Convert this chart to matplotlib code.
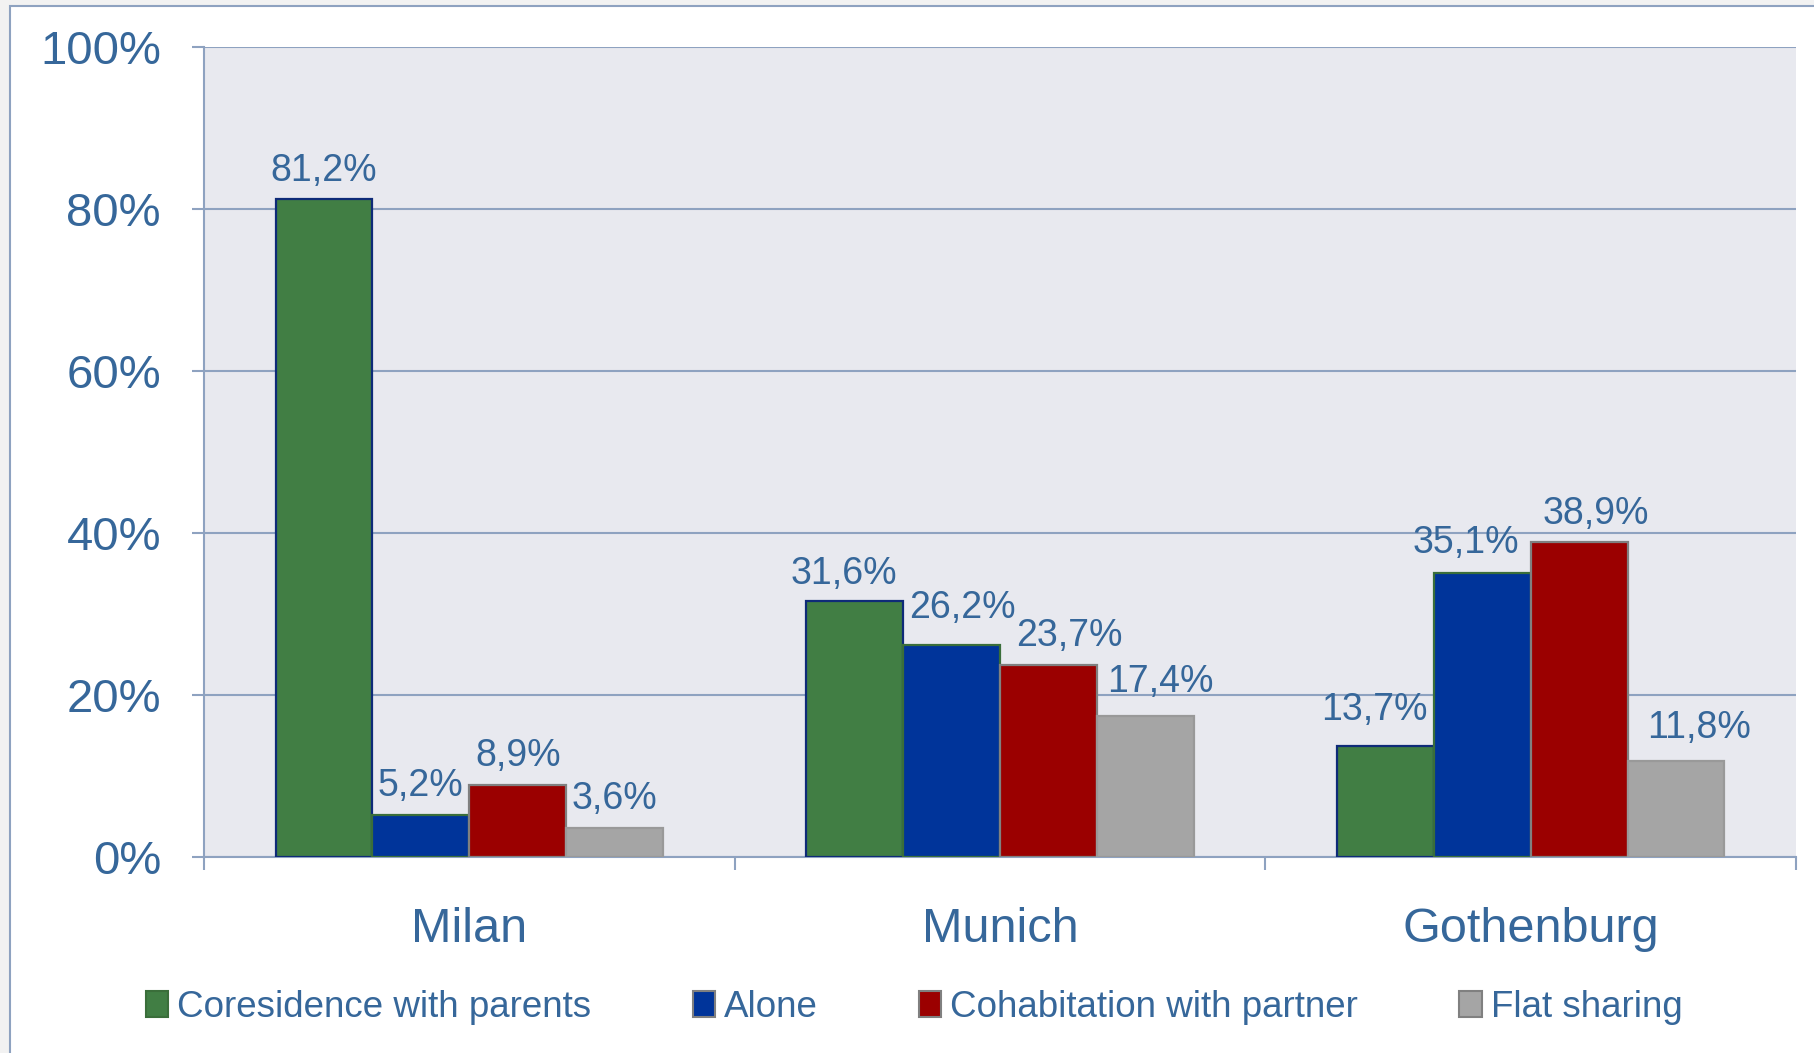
import matplotlib.pyplot as plt
import numpy as np
from matplotlib.patches import Rectangle, Patch

cities = ['Milan', 'Munich', 'Gothenburg']
series = ['Coresidence with parents', 'Alone', 'Cohabitation with partner', 'Flat sharing']
parents = [81.2, 31.6, 13.7]
alone = [5.2, 26.2, 35.1]
partner = [8.9, 23.7, 38.9]
flat = [3.6, 17.4, 11.8]

colors = ['#417E44', '#00349A', '#9B0000', '#A5A5A5']
edges = ['#0E2B78', '#3A6E3A', '#808080', '#999999']
txt = '#36679A'
axcol = '#8EA2C0'

# label nudges (points) so overlapping labels shift like in the original
lab_dx = [[0, -8, -8], [0, 8, -12], [0, 15, 12], [0, 11, 17]]
lab_dy = [[7.7, 6.8, 12.7], [7.7, 13.5, 8.5], [7.7, 7.7, 6.8], [7.7, 11.8, 11]]

plt.rcParams['font.family'] = ['Liberation Sans', 'DejaVu Sans']

fig = plt.figure(figsize=(18.14, 10.53), dpi=100, facecolor='#F2F2F2')
# white chart frame behind everything
fig.patches.append(Rectangle((10 / 1814, -0.1), 1.2, 1.1 - 6 / 1053, transform=fig.transFigure,
                             facecolor='white', edgecolor=axcol, linewidth=1.5, zorder=-5))

ax = fig.add_axes([204 / 1814, 1 - 857 / 1053, (1796 - 204) / 1814, (857 - 47) / 1053])
ax.set_zorder(2)
ax.set_facecolor('#E8E9EF')

x = np.arange(len(cities))
w = 0.1825
data = [parents, alone, partner, flat]
for i, vals in enumerate(data):
    pos = x + (i - 1.5) * w
    bars = ax.bar(pos, vals, w, color=colors[i], edgecolor=edges[i], linewidth=1.6,
                  label=series[i], zorder=3)
    for j, (b, v) in enumerate(zip(bars, vals)):
        ax.annotate(f'{v:.1f}%'.replace('.', ','), (b.get_x() + b.get_width() / 2, v),
                    xytext=(lab_dx[i][j], lab_dy[i][j]), textcoords='offset points',
                    ha='center', va='bottom', fontsize=27, color=txt, zorder=4)

ax.set_xlim(-0.5, 2.5)
ax.set_ylim(0, 100)
ax.set_yticks(range(0, 101, 20))
ax.set_yticklabels([f'{t}%' for t in range(0, 101, 20)])
ax.yaxis.grid(True, color=axcol, linewidth=1.5, zorder=1)
ax.set_axisbelow(True)

ax.set_xticks(x)
ax.set_xticklabels(cities)
ax.set_xticks([-0.5, 0.5, 1.5, 2.5], minor=True)
ax.tick_params(axis='x', which='major', length=0, pad=36, labelsize=35, labelcolor=txt)
ax.tick_params(axis='x', which='minor', length=9, width=1.5, color=axcol)
ax.tick_params(axis='y', length=9, width=1.5, color=axcol, pad=22, labelsize=34, labelcolor=txt)

for s in ['top', 'right']:
    ax.spines[s].set_visible(False)
for s in ['left', 'bottom']:
    ax.spines[s].set_color(axcol)
    ax.spines[s].set_linewidth(1.5)

handles = [Patch(facecolor=colors[i], edgecolor=edges[(i + 1) % 4 if i < 2 else 2], linewidth=1.5)
           for i in range(4)]
fig.legend(handles, series, loc='center', bbox_to_anchor=(0.504, 0.043), ncol=4, frameon=False,
           fontsize=26.5, labelcolor=txt, handlelength=0.6, handleheight=0.7, handletextpad=0.25,
           columnspacing=2.75)

fig.savefig('out.png', dpi=100, facecolor=fig.get_facecolor())
